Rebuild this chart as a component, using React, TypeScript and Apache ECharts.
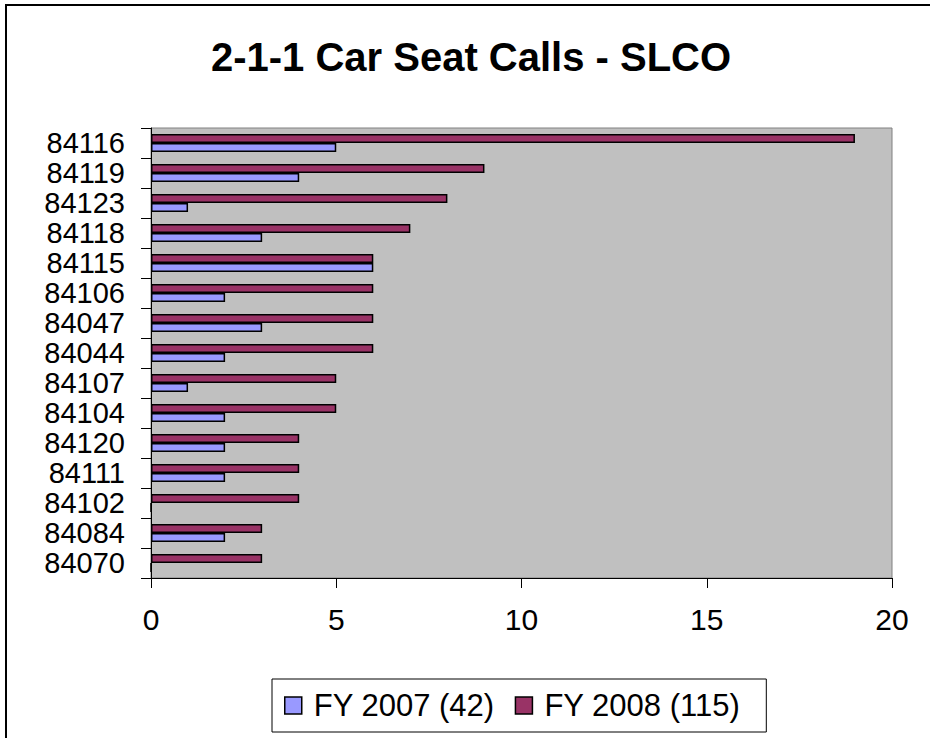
import React, { useEffect, useRef } from "react";
import * as echarts from "echarts";

const categories = ["84116", "84119", "84123", "84118", "84115", "84106", "84047", "84044", "84107", "84104", "84120", "84111", "84102", "84084", "84070"];
const fy2007 = [5, 4, 1, 3, 6, 2, 3, 2, 1, 2, 2, 2, 0, 2, 0];
const fy2008 = [19, 9, 8, 7, 6, 6, 6, 6, 5, 5, 4, 4, 4, 3, 3];
const seriesNames = ["FY 2007 (42)", "FY 2008 (115)"];
const titleText = "2-1-1 Car Seat Calls - SLCO";
const xTicks = { min: 0, max: 20, interval: 5 };

const FONT = "'Liberation Sans', Arial, Helvetica, sans-serif";

export default function App() {
  const ref = useRef<HTMLDivElement>(null);
  useEffect(() => {
    if (!ref.current) return;
    const chart = echarts.init(ref.current, null, { renderer: "svg" });
    chart.setOption({
      animation: false,
      backgroundColor: "#ffffff",
      textStyle: { fontFamily: FONT },
      graphic: [
        {
          type: "rect",
          shape: { x: 6, y: 5, width: 1000, height: 1000 },
          style: { fill: "none", stroke: "#000", lineWidth: 2 },
          silent: true,
          z: -10,
        },
        {
          type: "text",
          x: 471,
          y: 57,
          style: {
            text: titleText,
            textAlign: "center",
            textVerticalAlign: "middle",
            font: `bold 40px ${FONT}`,
            fill: "#000",
          },
        },
      ],
      legend: {
        data: seriesNames,
        left: 272,
        top: 679,
        orient: "horizontal",
        padding: [11, 26, 11, 12],
        borderColor: "#000",
        borderWidth: 1,
        backgroundColor: "#fff",
        itemWidth: 17,
        itemHeight: 17,
        itemGap: 20,
        icon: "rect",
        itemStyle: { borderColor: "#000", borderWidth: 1.5 },
        textStyle: { fontSize: 31, color: "#000", fontFamily: FONT, padding: [0, 0, 0, 7] },
      },
      grid: {
        left: 151,
        top: 128,
        width: 741,
        height: 450,
        show: true,
        backgroundColor: "#C0C0C0",
        borderColor: "#808080",
        borderWidth: 1,
        containLabel: false,
      },
      xAxis: {
        type: "value",
        min: xTicks.min,
        max: xTicks.max,
        interval: xTicks.interval,
        axisLine: { show: true, lineStyle: { color: "#000", width: 1 } },
        axisTick: { show: true, inside: false, length: 10, lineStyle: { color: "#000" } },
        splitLine: { show: false },
        axisLabel: { fontSize: 30, color: "#000", margin: 26, fontFamily: FONT },
      },
      yAxis: {
        type: "category",
        data: categories,
        inverse: true,
        axisLine: { show: true, lineStyle: { color: "#000", width: 1 } },
        axisTick: { show: true, inside: false, length: 10, interval: 0, alignWithLabel: false, lineStyle: { color: "#000" } },
        splitLine: { show: false },
        axisLabel: { interval: 0, fontSize: 29, lineHeight: 29, color: "#000", margin: 26, fontFamily: FONT },
      },
      series: [
        {
          name: seriesNames[1],
          type: "bar",
          data: fy2008,
          barWidth: 9,
          barGap: "0%",
          itemStyle: { color: "#993366", borderColor: "#000", borderWidth: 1.5 },
        },
        {
          name: seriesNames[0],
          type: "bar",
          data: fy2007,
          barWidth: 9,
          barGap: "0%",
          itemStyle: { color: "#9999FF", borderColor: "#000", borderWidth: 1.5 },
        },
      ],
    });
    return () => chart.dispose();
  }, []);
  return (
    <div
      ref={ref}
      style={{ position: "absolute", left: 0, top: 0, width: 930, height: 738 }}
    />
  );
}
